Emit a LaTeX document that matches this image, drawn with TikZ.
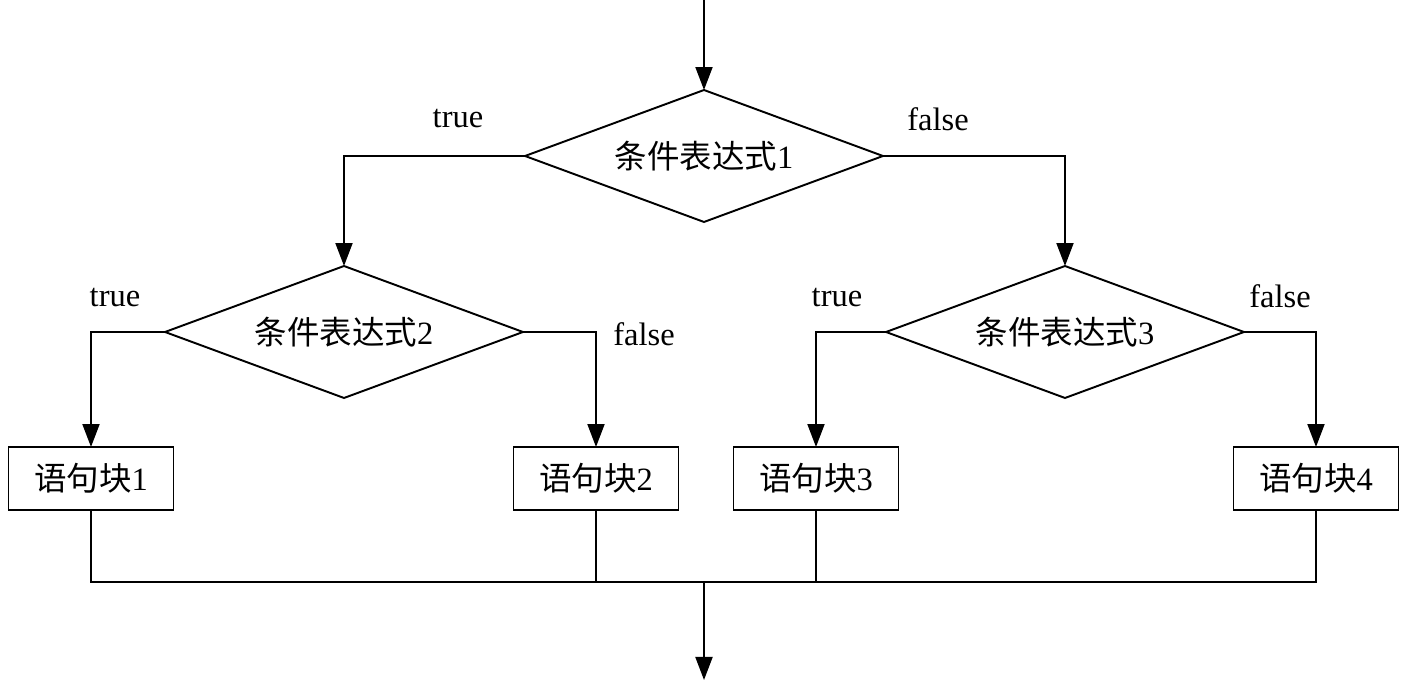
\documentclass[tikz,border=0pt]{standalone}
\usepackage{fontspec}
\setmainfont{Liberation Serif}
\newfontfamily\cjk{Noto Sans CJK SC}
\usetikzlibrary{shapes.geometric,arrows.meta}
\tikzset{
  base/.style={draw=black,line width=1.1pt,inner sep=0pt,outer sep=0pt,font=\fontsize{18.5}{21}\selectfont},
  cond/.style={base,diamond,aspect=2.712,minimum width=7.16cm,minimum height=2.64cm},
  stmt/.style={base,rectangle,minimum width=3.3cm,minimum height=1.26cm},
  lbl/.style={inner sep=0pt,font=\fontsize{18.5}{21}\selectfont},
  conn/.style={line width=1.1pt},
  arr/.style={line width=1.1pt,-{Triangle[length=0.46cm,width=0.34cm]}}
}
\begin{document}
\begin{tikzpicture}[x=0.02cm,y=-0.02cm]
\useasboundingbox (0,0) rectangle (1418,688);
\coordinate (start) at (704,0);
\node[cond] (d1) at (704,156) {{\cjk 条件表达式}1};
\node[cond] (d2) at (344,332) {{\cjk 条件表达式}2};
\node[cond] (d3) at (1065,332) {{\cjk 条件表达式}3};
\node[stmt] (b1) at (91,478.5) {{\cjk 语句块}1};
\node[stmt] (b2) at (596,478.5) {{\cjk 语句块}2};
\node[stmt] (b3) at (816,478.5) {{\cjk 语句块}3};
\node[stmt] (b4) at (1316,478.5) {{\cjk 语句块}4};
\coordinate (jm) at (704,582);
\coordinate (end) at (704,680);
\node[lbl] (t1) at (458,119) {true};
\node[lbl] (f1) at (938,119) {false};
\node[lbl] (t2) at (115,298) {true};
\node[lbl] (f2) at (644,334) {false};
\node[lbl] (t3) at (837,298) {true};
\node[lbl] (f3) at (1280,296) {false};
\draw[arr] (start) -- (d1.north);
\draw[arr] (d1.west) -| (d2.north);
\draw[arr] (d1.east) -| (d3.north);
\draw[arr] (d2.west) -| (b1.north);
\draw[arr] (d2.east) -| (b2.north);
\draw[arr] (d3.west) -| (b3.north);
\draw[arr] (d3.east) -| (b4.north);
\draw[conn] (b1.south) |- (b4.south |- jm) -- (b4.south);
\draw[conn] (b2.south) -- (b2.south |- jm);
\draw[conn] (b3.south) -- (b3.south |- jm);
\draw[arr] (jm) -- (end);
\end{tikzpicture}
\end{document}
